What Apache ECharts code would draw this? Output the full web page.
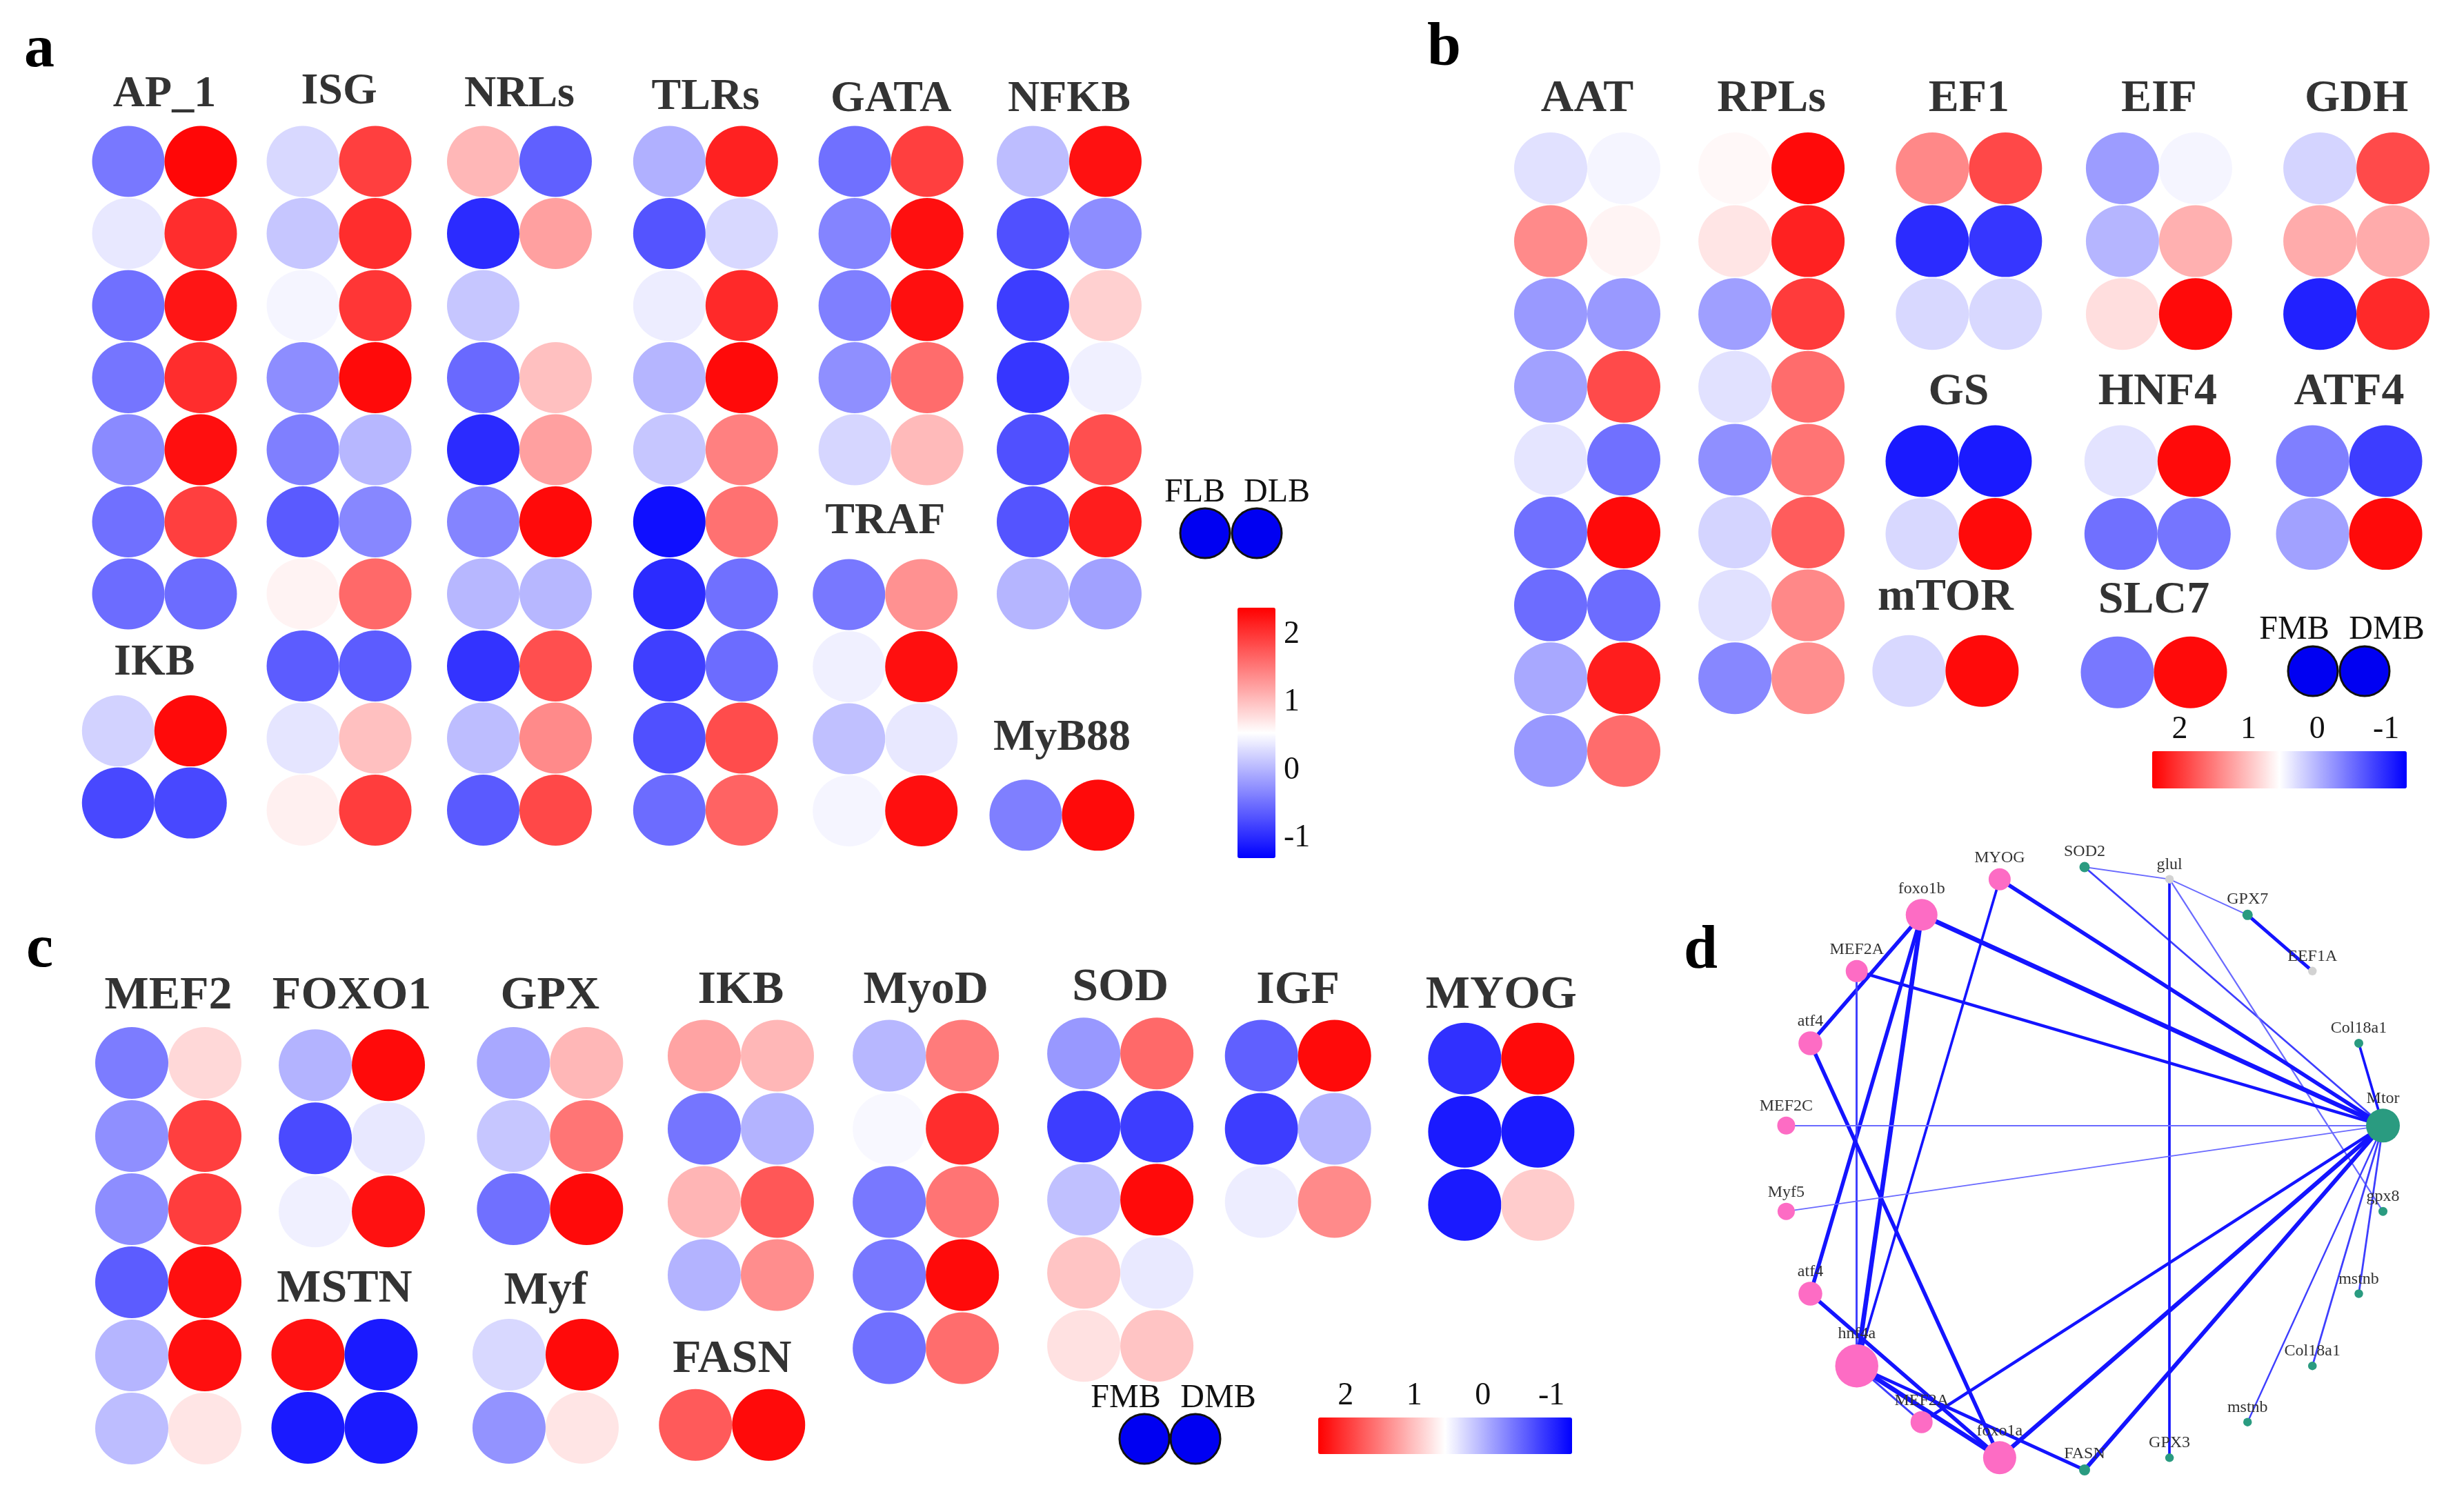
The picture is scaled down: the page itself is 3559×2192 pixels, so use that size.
<!DOCTYPE html>
<html><head><meta charset="utf-8">
<script src="https://cdn.jsdelivr.net/npm/echarts@6/dist/echarts.min.js"></script>
<style>html,body{margin:0;padding:0;background:#fff}#c{width:3559px;height:2192px}</style>
</head><body><div id="c"></div>
<script>
// ================= DATA (each row: [left circle, right circle]) =================
// Panel a  (FLB, DLB)
const AP_1  = [[-0.43,2.35],[0.38,2.07],[-0.49,2.25],[-0.45,2.07],[-0.30,2.29],[-0.49,1.94],[-0.52,-0.52]];
const ISG   = [[0.27,1.94],[0.14,2.07],[0.48,2.01],[-0.28,2.33],[-0.38,0.03],[-0.65,-0.32],[0.64,1.64],[-0.63,-0.63],[0.36,1.01],[0.66,1.96]];
const NRLs  = [[1.07,-0.60],[-0.99,1.24],[0.14,0.55],[-0.54,1.01],[-0.99,1.24],[-0.34,2.33],[0.03,0.03],[-0.93,1.83],[0.07,1.40],[-0.65,1.88]];
const TLRs  = [[-0.02,2.16],[-0.69,0.27],[0.42,2.10],[0.01,2.33],[0.14,1.47],[-1.19,1.58],[-0.99,-0.49],[-0.84,-0.52],[-0.72,1.85],[-0.52,1.68]];
const GATA  = [[-0.49,1.94],[-0.34,2.29],[-0.38,2.29],[-0.26,1.62],[0.25,1.05]];
const TRAF  = [[-0.43,1.35],[0.44,2.29],[0.09,0.38],[0.48,2.29]];
const NFKB  = [[0.07,2.28],[-0.72,-0.28],[-0.86,0.89],[-0.91,0.44],[-0.72,1.83],[-0.69,2.19],[0.01,-0.13]];
const MyB88 = [[-0.38,2.33]];
const IKB_a = [[0.22,2.33],[-0.78,-0.78]];
// Panel b  (FMB, DMB)
const AAT   = [[0.33,0.48],[1.40,0.63],[-0.19,-0.19],[-0.13,1.86],[0.36,-0.49],[-0.49,2.33],[-0.52,-0.52],[-0.08,2.19],[-0.20,1.62]];
const RPLs  = [[0.60,2.33],[0.74,2.16],[-0.15,1.97],[0.33,1.62],[-0.26,1.56],[0.24,1.73],[0.33,1.41],[-0.32,1.37]];
const EF1   = [[1.41,1.88],[-0.99,-0.91],[0.27,0.27]];
const EIF   = [[-0.17,0.48],[0.01,1.12],[0.79,2.33]];
const GDH   = [[0.24,1.86],[1.16,1.16],[-1.06,2.10]];
const GS    = [[-1.11,-1.11],[0.27,2.33]];
const HNF4  = [[0.35,2.33],[-0.49,-0.45]];
const ATF4  = [[-0.38,-0.86],[-0.13,2.33]];
const mTOR  = [[0.27,2.33]];
const SLC7  = [[-0.43,2.33]];
// Panel c  (FMB, DMB)
const MEF2  = [[-0.40,0.83],[-0.26,1.94],[-0.28,1.96],[-0.63,2.29],[0.01,2.29],[0.07,0.74]];
const FOXO1 = [[0.00,2.33],[-0.76,0.38],[0.44,2.28]];
const MSTN  = [[2.28,-1.11],[-1.11,-1.11]];
const GPX   = [[-0.08,1.07],[0.14,1.55],[-0.49,2.33]];
const Myf   = [[0.27,2.33],[-0.23,0.74]];
const IKB_c = [[1.22,1.07],[-0.45,0.00],[1.09,1.77],[0.00,1.38]];
const FASN  = [[1.75,2.33]];
const MyoD  = [[0.03,1.51],[0.50,2.07],[-0.43,1.56],[-0.43,2.33],[-0.49,1.61]];
const SOD   = [[-0.20,1.64],[-0.86,-0.86],[0.09,2.33],[0.98,0.39],[0.77,0.98]];
const IGF   = [[-0.60,2.33],[-0.86,0.01],[0.42,1.40]];
const MYOG  = [[-0.95,2.33],[-1.11,-1.11],[-1.11,0.92]];
// Colour scale
const scaleMin = -1.3, scaleMax = 2.4;
const scaleTicks = [-1, 0, 1, 2];
const legendA = ['FLB','DLB'];
const legendBC = ['FMB','DMB'];
// Panel d network (nodes in circular order, clockwise from top)
const netNodes = ['SOD2','glul','GPX7','EEF1A','Col18a1','Mtor','gpx8','mstnb','Col18a1','mstnb','GPX3','FASN','foxo1a','MEF2A','hnf4a','atf4','Myf5','MEF2C','atf4','MEF2A','foxo1b','MYOG'];
const netGroup = [1,2,1,2,1,1,1,1,1,1,1,1,0,0,0,0,0,0,0,0,0,0];
const netScore = [6,5,6,5,5.2,19.6,5.2,5,5,5,5,6.4,19.2,12.8,25,13.8,10,10.4,13.8,12.8,18.4,12.8];
const netLinks = [[0,1,1],[1,2,1],[2,3,2.6],[0,5,1.5],[1,10,2],[1,6,1.2],[4,5,2],[21,5,3],[21,14,2],
  [20,5,3.6],[20,18,3],[20,14,3.6],[20,15,3],[19,5,2.4],[19,14,1.6],[18,12,3],[17,5,1],[16,5,1],
  [15,12,3],[14,12,3.6],[14,13,1.6],[14,11,2.6],[13,5,2.4],[12,5,3.4],[11,5,3.2],[5,7,1.5],[5,8,1.5],[5,9,1.3]];

// ================= LAYOUT (cell units of each panel grid) =================
const layoutA = [
  {t:'AP_1', d:AP_1, col:1.0, row:1.0, dy:-0.92},
  {t:'ISG', d:ISG, col:3.41, row:1.0, dy:-0.96},
  {t:'NRLs', d:NRLs, col:5.9, row:1.0, dy:-0.92},
  {t:'TLRs', d:TLRs, col:8.47, row:1.0, dy:-0.89},
  {t:'GATA', d:GATA, col:11.03, row:1.0, dy:-0.86},
  {t:'NFKB', d:NFKB, col:13.49, row:1.0, dy:-0.86},
  {t:'TRAF', d:TRAF, col:10.95, row:7.01, dy:-1.01},
  {t:'MyB88', d:MyB88, col:13.39, row:10.07, dy:-1.07},
  {t:'IKB', d:IKB_a, col:0.86, row:8.9, dy:-0.94}
];
const layoutB = [
  {t:'AAT', d:AAT, col:1.0, row:1.0, dy:-0.95},
  {t:'RPLs', d:RPLs, col:3.52, row:1.0, dy:-0.95},
  {t:'EF1', d:EF1, col:6.22, row:1.0, dy:-0.95},
  {t:'EIF', d:EIF, col:8.82, row:1.0, dy:-0.95},
  {t:'GDH', d:GDH, col:11.52, row:1.0, dy:-0.95},
  {t:'GS', d:GS, col:6.08, row:5.02, dy:-0.94},
  {t:'HNF4', d:HNF4, col:8.8, row:5.02, dy:-0.94},
  {t:'ATF4', d:ATF4, col:11.42, row:5.02, dy:-0.94},
  {t:'mTOR', d:mTOR, col:5.9, row:7.9, dy:-1.0},
  {t:'SLC7', d:SLC7, col:8.75, row:7.92, dy:-0.98}
];
const layoutC = [
  {t:'MEF2', d:MEF2, col:1.0, row:1.0, dy:-0.91},
  {t:'FOXO1', d:FOXO1, col:3.51, row:1.03, dy:-0.94},
  {t:'MSTN', d:MSTN, col:3.41, row:4.99, dy:-0.89},
  {t:'GPX', d:GPX, col:6.22, row:1.0, dy:-0.91},
  {t:'Myf', d:Myf, col:6.16, row:4.99, dy:-0.86},
  {t:'IKB', d:IKB_c, col:8.83, row:0.9, dy:-0.89},
  {t:'FASN', d:FASN, col:8.71, row:5.95, dy:-0.89},
  {t:'MyoD', d:MyoD, col:11.36, row:0.9, dy:-0.89},
  {t:'SOD', d:SOD, col:14.02, row:0.87, dy:-0.89},
  {t:'IGF', d:IGF, col:16.45, row:0.9, dy:-0.89},
  {t:'MYOG', d:MYOG, col:19.23, row:0.94, dy:-0.86}
];

function cells(layout) {
  const out = [];
  layout.forEach(g => g.d.forEach((pair, i) => pair.forEach((v, j) => out.push([g.col + j, g.row + i, v]))));
  return out;
}
function titles(layout) {
  return layout.map(g => ({name: g.t, value: [g.col + 0.5, g.row + g.dy]}));
}

const SERIF = '"Liberation Serif","Times New Roman",serif';
function panelAxes(gi, xmax, ymin, ymax) {
  return {
    x: {gridIndex:gi, type:'value', min:0, max:xmax, show:false},
    y: {gridIndex:gi, type:'value', min:ymin, max:ymax, inverse:true, show:false}
  };
}
const pA = panelAxes(0, 20, -1, 12), pB = panelAxes(1, 13, -1, 10), pC = panelAxes(2, 21, -1, 7);

function cbAxis(gi, dir, position, withLabels, inverse) {
  return {
    gridIndex: gi, type:'value', min: scaleMin, max: scaleMax, position: position, inverse: !!inverse,
    axisLine:{show:false}, splitLine:{show:false},
    axisTick:{show:true, inside:true, length:12, lineStyle:{color:'#fff', width:3}, customValues: scaleTicks},
    axisLabel:{show: withLabels, customValues: scaleTicks, fontSize:46, fontFamily: SERIF, color:'#111', margin: dir === 'v' ? 12 : 8}
  };
}

function cellSeries(name, gi, data, size) {
  return {
    name, type:'scatter', xAxisIndex:gi, yAxisIndex:gi, data, symbol:'circle', symbolSize:size,
    itemStyle:{opacity:1}, emphasis:{disabled:true}, silent:true, z:2, clip:false
  };
}
function titleSeries(gi, data, fs) {
  return {
    type:'scatter', xAxisIndex:gi, yAxisIndex:gi, data, symbolSize:0, silent:true, z:3, clip:false,
    label:{show:true, position:'inside', formatter:'{b}', fontSize:fs, fontWeight:'bold', fontFamily:SERIF, color:'#000'},
    labelLayout:{hideOverlap:false}
  };
}

const pink = '#fd6cc4', teal = '#2a9b80', grey = '#d2d2d2';
const nodes = netNodes.map((n, i) => ({
  id: 'n' + i, name: n, value: [1, i], category: netGroup[i], symbolSize: netScore[i] * 2.5
}));
const links = netLinks.map(l => ({
  source: l[0], target: l[1],
  lineStyle: {width: l[2] * 1.85, color: l[2] <= 1.2 ? '#6a6aff' : (l[2] <= 1.6 ? '#3e3eff' : '#1414ff'), opacity: 1}
}));

function legendGraphic(cx, cy, labels, tx, ty) {
  return [
    {type:'circle', shape:{cx:cx[0], cy:cy, r:36}, style:{fill:'#0000f2', stroke:'#111', lineWidth:3}, z:10},
    {type:'circle', shape:{cx:cx[1], cy:cy, r:36}, style:{fill:'#0000f2', stroke:'#111', lineWidth:3}, z:10},
    {type:'text', x:tx[0], y:ty, style:{text:labels[0], font:'48px ' + SERIF, fill:'#111', align:'center', verticalAlign:'middle'}, z:10},
    {type:'text', x:tx[1], y:ty, style:{text:labels[1], font:'48px ' + SERIF, fill:'#111', align:'center', verticalAlign:'middle'}, z:10}
  ];
}
function letter(t, x, y) {
  return {type:'text', x, y, style:{text:t, font:'bold 88px ' + SERIF, fill:'#000', align:'left', verticalAlign:'middle'}, z:10};
}

const chart = echarts.init(document.getElementById('c'), null, {renderer:'canvas'});
chart.setOption({
  backgroundColor:'#fff',
  animation:false,
  grid: [
    {left:81, top:25, width:2100, height:1358.5, outerBoundsMode:'none'},
    {left:2142, top:32.8, width:1378, height:1161.6, outerBoundsMode:'none'},
    {left:85, top:1329, width:2226, height:848, outerBoundsMode:'none'},
    {left:1794, top:881, width:55, height:363, outerBoundsMode:'none'},
    {left:3120, top:1089, width:369, height:54, outerBoundsMode:'none'},
    {left:1911, top:2055, width:368, height:53, outerBoundsMode:'none'}
  ],
  xAxis: [pA.x, pB.x, pC.x,
    {gridIndex:3, type:'value', min:0, max:1, show:false},
    cbAxis(4, 'h', 'top', true, true), cbAxis(4, 'h', 'bottom', false, true),
    cbAxis(5, 'h', 'top', true, true), cbAxis(5, 'h', 'bottom', false, true)
  ],
  yAxis: [pA.y, pB.y, pC.y,
    cbAxis(3, 'v', 'right', true, false), cbAxis(3, 'v', 'left', false, false),
    {gridIndex:4, type:'value', min:0, max:1, show:false},
    {gridIndex:5, type:'value', min:0, max:1, show:false}
  ],
  visualMap: [
    {type:'continuous', min:scaleMin, max:scaleMax, dimension:2, seriesIndex:0, calculable:false, orient:'vertical',
     left:1794, top:881, itemWidth:55, itemHeight:363, padding:0, inRange:{color:['#0000ff','#ffffff','#ff0000']}},
    {type:'continuous', min:scaleMin, max:scaleMax, dimension:2, seriesIndex:2, calculable:false, orient:'horizontal', inverse:true,
     left:3120, top:1089, itemWidth:54, itemHeight:369, padding:0, inRange:{color:['#0000ff','#ffffff','#ff0000']}},
    {type:'continuous', min:scaleMin, max:scaleMax, dimension:2, seriesIndex:4, calculable:false, orient:'horizontal', inverse:true,
     left:1911, top:2055, itemWidth:53, itemHeight:368, padding:0, inRange:{color:['#0000ff','#ffffff','#ff0000']}}
  ],
  polar: {center:[3022, 1694], radius:437},
  angleAxis: {type:'value', min:0, max:22, startAngle:90, clockwise:true, show:false, axisLine:{show:false}, splitLine:{show:false}, axisLabel:{show:false}, axisTick:{show:false}},
  radiusAxis: {type:'value', min:0, max:1, show:false, axisLine:{show:false}, splitLine:{show:false}, axisLabel:{show:false}, axisTick:{show:false}},
  series: [
    cellSeries('a', 0, cells(layoutA), [105, 103]),
    titleSeries(0, titles(layoutA), 64),
    cellSeries('b', 1, cells(layoutB), [106, 104]),
    titleSeries(1, titles(layoutB), 66),
    cellSeries('c', 2, cells(layoutC), [106, 104]),
    titleSeries(2, titles(layoutC), 68),
    {
      type:'graph', coordinateSystem:'polar', polarIndex:0, layout:'none', silent:true,
      categories:[{name:'tf', itemStyle:{color:pink}}, {name:'target', itemStyle:{color:teal}}, {name:'other', itemStyle:{color:grey}}],
      data: nodes, links: links,
      label:{show:true, position:'top', distance:3, formatter:'{b}', fontSize:24, fontFamily:SERIF, color:'#333'},
      lineStyle:{curveness:0},
      emphasis:{disabled:true}, z:2
    }
  ],
  graphic: [].concat(
    [letter('a', 35, 73), letter('b', 2069, 71), letter('c', 38, 1378), letter('d', 2441, 1380)],
    legendGraphic([1747, 1822], 773, legendA, [1732, 1851], 714),
    legendGraphic([3353, 3428], 973, legendBC, [3326, 3460], 913),
    legendGraphic([1659, 1733], 2086, legendBC, [1632, 1766], 2027)
  )
});
</script></body></html>
